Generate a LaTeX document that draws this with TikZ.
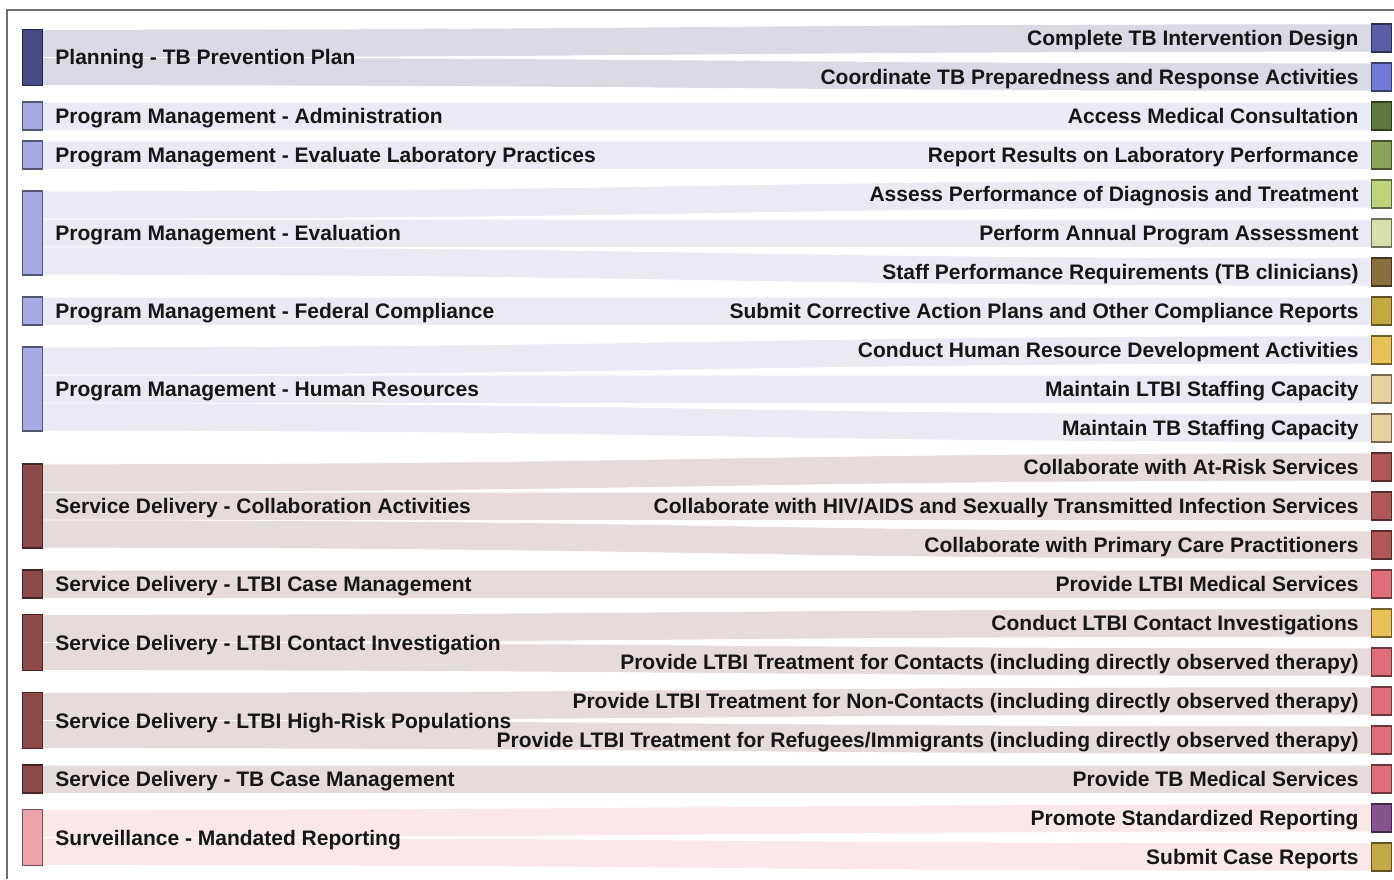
\documentclass[tikz,border=0pt]{standalone}
\usepackage{fontspec}
\setmainfont{Liberation Sans}
\usepackage{tikz}
\usetikzlibrary{positioning,calc,backgrounds}

\definecolor{txtcol}{HTML}{161616}
\definecolor{framecol}{HTML}{6E6E6E}
\definecolor{planbar}{HTML}{474C86}
\definecolor{pmbar}{HTML}{A5A9E4}
\definecolor{sdbar}{HTML}{8C4A4A}
\definecolor{survbar}{HTML}{EBA3AB}
\definecolor{planflow}{HTML}{D9DAE5}
\definecolor{pmflow}{HTML}{E9EAF6}
\definecolor{sdflow}{HTML}{E7DADA}
\definecolor{survflow}{HTML}{FAE7E9}
\definecolor{cdesign}{HTML}{5A5EA6}
\definecolor{ccoord}{HTML}{7478D6}
\definecolor{cconsult}{HTML}{5E7A3E}
\definecolor{clabrep}{HTML}{8AA458}
\definecolor{cassess}{HTML}{BCD47A}
\definecolor{cannual}{HTML}{D6E0AC}
\definecolor{cstaff}{HTML}{8A6E3E}
\definecolor{ccorrect}{HTML}{C4A842}
\definecolor{chrdev}{HTML}{EAC058}
\definecolor{cstaffing}{HTML}{E8D0A0}
\definecolor{ccollab}{HTML}{B05858}
\definecolor{cmed}{HTML}{DE6E7A}
\definecolor{cpromote}{HTML}{855490}
\definecolor{ccase}{HTML}{C4A84A}

\tikzset{
	bar/.style={draw=#1!50!black, fill=#1, line width=1.3pt, minimum width=19.5pt, inner sep=0pt, outer sep=0pt},
	rbar/.style={bar=#1, minimum height=28pt},
	txt/.style={font=\bfseries\fontsize{21}{24}\selectfont, text=txtcol, inner sep=0pt, text height=15pt, text depth=0pt},
	band/.style={fill=#1, draw=white, line width=0.6pt},
	frame/.style={draw=framecol, line width=2pt},
}

% left node, slice, right node, colour
\newcommand\flow[4]{\path[band=#4] ($(#1.north east)+(0,-#2*28)$) coordinate (f)
	.. controls +(660,0) and +(-660,0) .. (#3.north west) -- (#3.south west)
	.. controls +(-660,0) and +(660,0) .. ($(f)+(0,-28)$) -- cycle;}

\begin{document}
\begin{tikzpicture}[x=1pt,y=1pt]
	\useasboundingbox (0,0) rectangle (1394,879);
	\draw[frame] (7,0) -- (7,869) -- (1394,869);

	\node[rbar=cdesign] (r1) at (1381.5,841) {};
	\node[rbar=ccoord, below=11pt of r1] (r2) {};
	\node[rbar=cconsult, below=11pt of r2] (r3) {};
	\node[rbar=clabrep, below=11pt of r3] (r4) {};
	\node[rbar=cassess, below=11pt of r4] (r5) {};
	\node[rbar=cannual, below=11pt of r5] (r6) {};
	\node[rbar=cstaff, below=11pt of r6] (r7) {};
	\node[rbar=ccorrect, below=11pt of r7] (r8) {};
	\node[rbar=chrdev, below=11pt of r8] (r9) {};
	\node[rbar=cstaffing, below=11pt of r9] (r10) {};
	\node[rbar=cstaffing, below=11pt of r10] (r11) {};
	\node[rbar=ccollab, below=11pt of r11] (r12) {};
	\node[rbar=ccollab, below=11pt of r12] (r13) {};
	\node[rbar=ccollab, below=11pt of r13] (r14) {};
	\node[rbar=cmed, below=11pt of r14] (r15) {};
	\node[rbar=chrdev, below=11pt of r15] (r16) {};
	\node[rbar=cmed, below=11pt of r16] (r17) {};
	\node[rbar=cmed, below=11pt of r17] (r18) {};
	\node[rbar=cmed, below=11pt of r18] (r19) {};
	\node[rbar=cmed, below=11pt of r19] (r20) {};
	\node[rbar=cpromote, below=11pt of r20] (r21) {};
	\node[rbar=ccase, below=11pt of r21] (r22) {};

	\node[txt, left=13pt of r1] (r1t) {Complete TB Intervention Design};
	\node[txt, left=13pt of r2] (r2t) {Coordinate TB Preparedness and Response Activities};
	\node[txt, left=13pt of r3] (r3t) {Access Medical Consultation};
	\node[txt, left=13pt of r4] (r4t) {Report Results on Laboratory Performance};
	\node[txt, left=13pt of r5] (r5t) {Assess Performance of Diagnosis and Treatment};
	\node[txt, left=13pt of r6] (r6t) {Perform Annual Program Assessment};
	\node[txt, left=13pt of r7] (r7t) {Staff Performance Requirements (TB clinicians)};
	\node[txt, left=13pt of r8] (r8t) {Submit Corrective Action Plans and Other Compliance Reports};
	\node[txt, left=13pt of r9] (r9t) {Conduct Human Resource Development Activities};
	\node[txt, left=13pt of r10] (r10t) {Maintain LTBI Staffing Capacity};
	\node[txt, left=13pt of r11] (r11t) {Maintain TB Staffing Capacity};
	\node[txt, left=13pt of r12] (r12t) {Collaborate with At-Risk Services};
	\node[txt, left=13pt of r13] (r13t) {Collaborate with HIV/AIDS and Sexually Transmitted Infection Services};
	\node[txt, left=13pt of r14] (r14t) {Collaborate with Primary Care Practitioners};
	\node[txt, left=13pt of r15] (r15t) {Provide LTBI Medical Services};
	\node[txt, left=13pt of r16] (r16t) {Conduct LTBI Contact Investigations};
	\node[txt, left=13pt of r17] (r17t) {Provide LTBI Treatment for Contacts (including directly observed therapy)};
	\node[txt, left=13pt of r18] (r18t) {Provide LTBI Treatment for Non-Contacts (including directly observed therapy)};
	\node[txt, left=13pt of r19] (r19t) {Provide LTBI Treatment for Refugees/Immigrants (including directly observed therapy)};
	\node[txt, left=13pt of r20] (r20t) {Provide TB Medical Services};
	\node[txt, left=13pt of r21] (r21t) {Promote Standardized Reporting};
	\node[txt, left=13pt of r22] (r22t) {Submit Case Reports};

	\node[bar=planbar, minimum height=56pt] (plan) at (32.5,821.5) {};
	\node[bar=pmbar, minimum height=28pt] (admin) at (32.5,763) {};
	\node[bar=pmbar, minimum height=28pt] (lab) at (32.5,724) {};
	\node[bar=pmbar, minimum height=84pt] (eval) at (32.5,646) {};
	\node[bar=pmbar, minimum height=28pt] (fed) at (32.5,568) {};
	\node[bar=pmbar, minimum height=84pt] (hr) at (32.5,490) {};
	\node[bar=sdbar, minimum height=84pt] (collab) at (32.5,373) {};
	\node[bar=sdbar, minimum height=28pt] (ltbicm) at (32.5,295) {};
	\node[bar=sdbar, minimum height=56pt] (contact) at (32.5,236.5) {};
	\node[bar=sdbar, minimum height=56pt] (risk) at (32.5,158.5) {};
	\node[bar=sdbar, minimum height=28pt] (tbcm) at (32.5,100) {};
	\node[bar=survbar, minimum height=56pt] (surv) at (32.5,41.5) {};

	\node[txt, right=13pt of plan] (plant) {Planning - TB Prevention Plan};
	\node[txt, right=13pt of admin] (admint) {Program Management - Administration};
	\node[txt, right=13pt of lab] (labt) {Program Management - Evaluate Laboratory Practices};
	\node[txt, right=13pt of eval] (evalt) {Program Management - Evaluation};
	\node[txt, right=13pt of fed] (fedt) {Program Management - Federal Compliance};
	\node[txt, right=13pt of hr] (hrt) {Program Management - Human Resources};
	\node[txt, right=13pt of collab] (collabt) {Service Delivery - Collaboration Activities};
	\node[txt, right=13pt of ltbicm] (ltbicmt) {Service Delivery - LTBI Case Management};
	\node[txt, right=13pt of contact] (contactt) {Service Delivery - LTBI Contact Investigation};
	\node[txt, right=13pt of risk] (riskt) {Service Delivery - LTBI High-Risk Populations};
	\node[txt, right=13pt of tbcm] (tbcmt) {Service Delivery - TB Case Management};
	\node[txt, right=13pt of surv] (survt) {Surveillance - Mandated Reporting};

	\begin{scope}[on background layer]
		\flow{plan}{0}{r1}{planflow} \flow{plan}{1}{r2}{planflow}
		\flow{admin}{0}{r3}{pmflow}
		\flow{lab}{0}{r4}{pmflow}
		\flow{eval}{0}{r5}{pmflow} \flow{eval}{1}{r6}{pmflow} \flow{eval}{2}{r7}{pmflow}
		\flow{fed}{0}{r8}{pmflow}
		\flow{hr}{0}{r9}{pmflow} \flow{hr}{1}{r10}{pmflow} \flow{hr}{2}{r11}{pmflow}
		\flow{collab}{0}{r12}{sdflow} \flow{collab}{1}{r13}{sdflow} \flow{collab}{2}{r14}{sdflow}
		\flow{ltbicm}{0}{r15}{sdflow}
		\flow{contact}{0}{r16}{sdflow} \flow{contact}{1}{r17}{sdflow}
		\flow{risk}{0}{r18}{sdflow} \flow{risk}{1}{r19}{sdflow}
		\flow{tbcm}{0}{r20}{sdflow}
		\flow{surv}{0}{r21}{survflow} \flow{surv}{1}{r22}{survflow}
	\end{scope}
\end{tikzpicture}
\end{document}
